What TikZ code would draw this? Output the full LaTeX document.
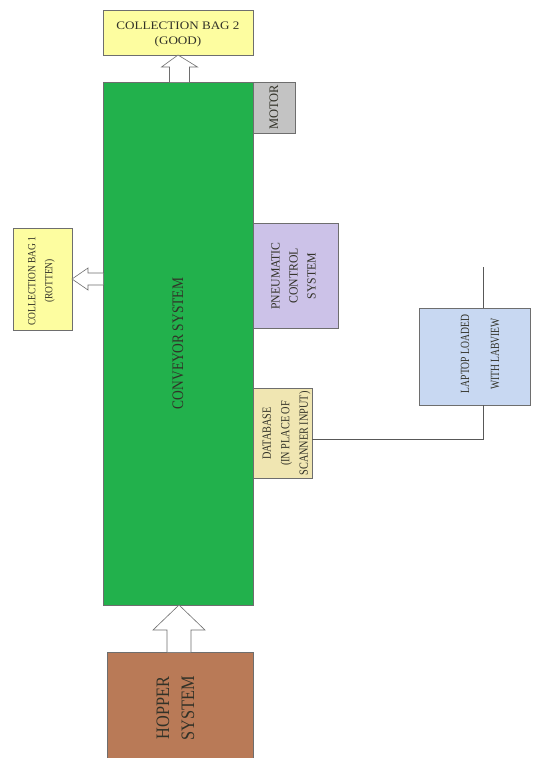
\documentclass[tikz,border=0pt]{standalone}
\usepackage{fontspec}
\setmainfont{Liberation Serif}
\usetikzlibrary{calc}
\definecolor{convgreen}{RGB}{34,177,76}
\definecolor{bagyellow}{RGB}{253,253,160}
\definecolor{motorgray}{RGB}{195,195,195}
\definecolor{pneulav}{RGB}{204,194,232}
\definecolor{dbtan}{RGB}{240,230,178}
\definecolor{lapblue}{RGB}{200,216,242}
\definecolor{hopbrown}{RGB}{185,122,87}
\definecolor{edge}{RGB}{110,110,110}
\definecolor{txt}{RGB}{50,50,40}
\tikzset{
  blk/.style={draw=edge, line width=0.8pt, inner sep=0pt, outer sep=0pt},
  lbl/.style={rotate=90, align=center, text=txt, inner sep=0pt},
  hollow/.style={draw=edge, fill=white, line width=0.6pt, line join=miter},
  wire/.style={draw=edge!80!black, line width=0.9pt}
}
\begin{document}
\begin{tikzpicture}[x=1pt,y=-1pt]
\useasboundingbox (0,0) rectangle (535,758);
% boxes
\node[blk, fill=bagyellow, minimum width=150pt, minimum height=45pt] (bag2) at (178,32.5) {};
\node[blk, fill=convgreen, minimum width=150pt, minimum height=523pt] (conv) at (178,343.5) {};
\node[blk, fill=motorgray, minimum width=42pt, minimum height=51pt] (motor) at (274,107.5) {};
\node[blk, fill=pneulav, minimum width=85pt, minimum height=105pt] (pneu) at (295.5,275.5) {};
\node[blk, fill=dbtan, minimum width=59pt, minimum height=90pt] (db) at (282.5,433) {};
\node[blk, fill=lapblue, minimum width=111pt, minimum height=97pt] (lap) at (474.5,356.5) {};
\node[blk, fill=bagyellow, minimum width=59pt, minimum height=102pt] (bag1) at (42.5,279) {};
\node[blk, fill=hopbrown, minimum width=146pt, minimum height=106pt] (hop) at (180,705) {};
% labels
\node[text=txt, align=center, inner sep=0pt, xscale=1.14, font=\fontsize{11.5}{15}\selectfont] (tbag2) at (178,34) {COLLECTION BAG 2\\(GOOD)};
\node[lbl, xscale=0.84, font=\fontsize{16}{18}\selectfont] (tconv) at (conv) {CONVEYOR SYSTEM};
\node[lbl, xscale=0.96, font=\fontsize{13}{15}\selectfont] (tmotor) at (motor) {MOTOR};
\node[lbl, xscale=0.94, font=\fontsize{12.5}{18}\selectfont] (tpneu) at (293.5,276) {PNEUMATIC\\CONTROL\\SYSTEM};
\node[lbl, xscale=0.82, font=\fontsize{12.5}{18.5}\selectfont] (tdb) at (286.5,433.5) {DATABASE\\(IN PLACE OF\\SCANNER INPUT)};
\node[lbl, xscale=0.77, font=\fontsize{12.5}{30}\selectfont] (tlap) at (480,354) {LAPTOP LOADED\\WITH LABVIEW};
\node[lbl, xscale=0.86, font=\fontsize{11}{17}\selectfont] (tbag1) at (41.5,281) {COLLECTION BAG 1\\(ROTTEN)};
\node[lbl, xscale=0.86, font=\fontsize{19}{25}\selectfont] (thop) at (175.5,708) {HOPPER\\SYSTEM};
% hollow arrows
% conveyor -> bag2
\draw[hollow] ($(conv.north)+(-8.5,0)$) -- ($(conv.north)+(-8.5,-15)$) -- ($(conv.north)+(-16.5,-15)$)
  -- (bag2.south) -- ($(conv.north)+(19.5,-15)$) -- ($(conv.north)+(11.5,-15)$) -- ($(conv.north)+(11.5,0)$);
% hopper -> conveyor
\draw[hollow] ($(hop.north)+(-13,0)$) -- ($(hop.north)+(-13,-22)$) -- ($(hop.north)+(-27,-22)$)
  -- ($(conv.south)+(1,0)$) -- ($(hop.north)+(25,-22)$) -- ($(hop.north)+(11,-22)$) -- ($(hop.north)+(11,0)$);
% conveyor -> bag1
\coordinate (b1tip) at (bag1.east);
\coordinate (b1root) at (conv.west |- bag1.east);
\draw[hollow] ($(b1root)+(0,-6)$) -- ($(b1tip)+(16,-6)$) -- ($(b1tip)+(16,-11)$)
  -- (b1tip) -- ($(b1tip)+(16,11)$) -- ($(b1tip)+(16,6)$) -- ($(b1root)+(0,6)$);
% wires
\coordinate (lapin) at ($(lap.north)+(8.5,-41)$);
\draw[wire] ($(lap.north)+(8.5,0)$) -- (lapin);
\draw[wire] ($(db.east)+(0,6)$) -| ($(lap.south)+(8.5,0)$);
\end{tikzpicture}
\end{document}
